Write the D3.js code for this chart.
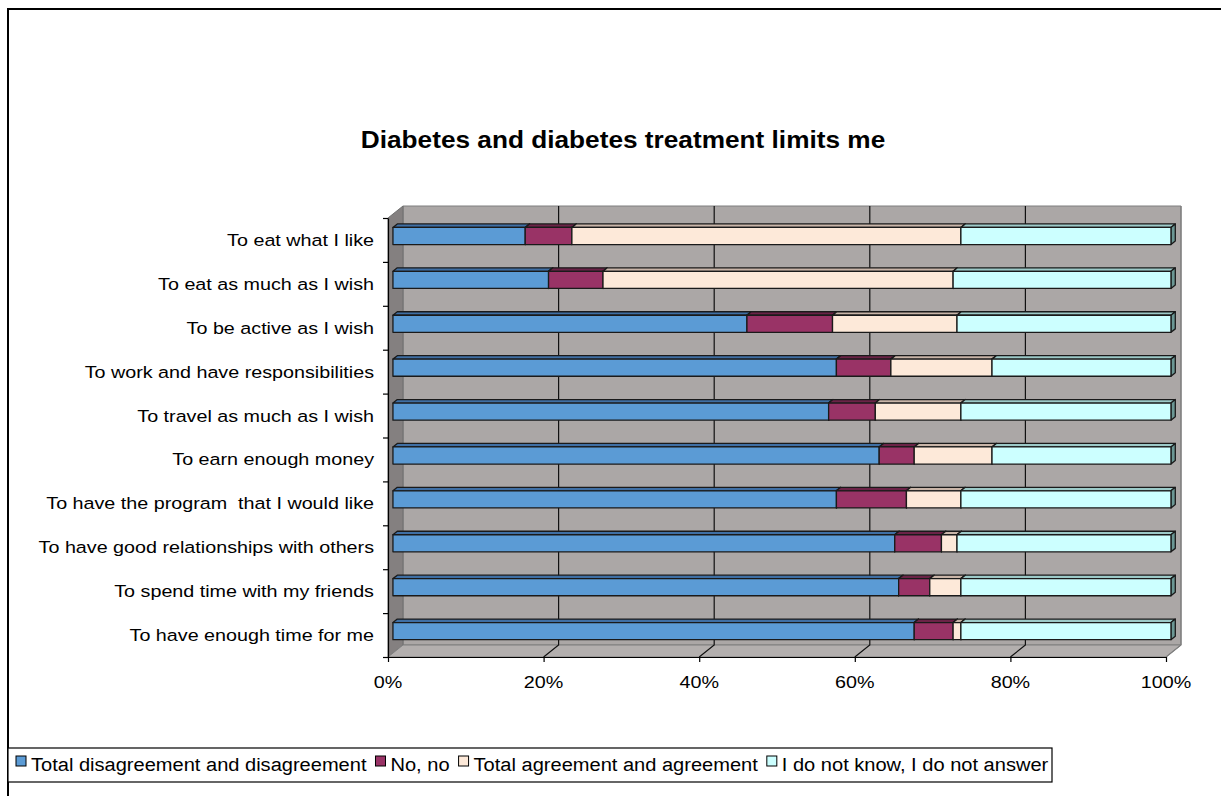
<!DOCTYPE html>
<html>
<head>
<meta charset="utf-8">
<script src="https://cdn.jsdelivr.net/npm/d3@7"></script>
<style>
  body { margin: 0; background: #fff; }
  text { font-family: "Liberation Sans", Arial, sans-serif; fill: #000; white-space: pre; }
</style>
</head>
<body>
<svg id="chart" width="1221" height="796"></svg>
<script>

//============================================================
// Data
//------------------------------------------------------------

var categories = [
  'To eat what I like',
  'To eat as much as I wish',
  'To be active as I wish',
  'To work and have responsibilities',
  'To travel as much as I wish',
  'To earn enough money',
  'To have the program  that I would like',
  'To have good relationships with others',
  'To spend time with my friends',
  'To have enough time for me'
];

var seriesNames = [
  'Total disagreement and disagreement',
  'No, no',
  'Total agreement and agreement',
  'I do not know, I do not answer'
];

var disagree = [17, 20, 45.5, 57, 56, 62.5, 57, 64.5, 65, 67];
var noNo     = [6, 7, 11, 7, 6, 4.5, 9, 6, 4, 5];
var agree    = [50, 45, 16, 13, 11, 10, 7, 2, 4, 1];
var dontKnow = [27, 28, 27.5, 23, 27, 23, 27, 27.5, 27, 27];

var xTicks = [0, 20, 40, 60, 80, 100];

var title = 'Diabetes and diabetes treatment limits me';

//============================================================
// Look
//------------------------------------------------------------

var faceColors = ['#5b9bd5', '#993366', '#fde9d9', '#ccffff'];
var topColors  = ['#3f6fa4', '#6b2347', '#c9b5a8', '#9ccac8'];
var sideColors = ['#3a6595', '#5e1f3e', '#a89488', '#6b9794'];

var X0 = 388, X1 = 1166, Y0 = 218, Y1 = 657
  , DX = 15, DY = -12      // depth of the 3d box
  , f0 = 0.33, f1 = 0.62   // bar position in depth
  , sx = 1.14              // text is drawn a bit wide
  , fs = 17.3
  , legFs = 17.6
  ;

var svg = d3.select('#chart');

function wideText(g, x, y, str, size, anchor, weight) {
  var t = g.append('text')
      .attr('transform', 'translate(' + x + ',' + y + ') scale(' + sx + ',1)')
      .attr('text-anchor', anchor || 'start')
      .style('font-size', size + 'px')
      .style('font-weight', weight || 'normal')
      .text(str);
  return t;
}

// chart border
svg.append('path')
    .attr('d', 'M8,800V9H1225')
    .attr('fill', 'none')
    .attr('stroke', '#000')
    .attr('stroke-width', 2);

wideText(svg, 623, 148, title, 23, 'middle', 'bold');

//------------------------------------------------------------
// Scales

var x = d3.scaleLinear().domain([0, 100]).range([X0, X1]);
var y = d3.scaleBand().domain(categories).range([Y0, Y1])
    .paddingInner(0.61).paddingOuter(0.305);

//------------------------------------------------------------
// Walls and floor

var pts = function(a) { return a.map(function(p) { return p.join(','); }).join(' '); };

svg.append('polygon')
    .attr('points', pts([[X0 + DX, Y0 + DY], [X1 + DX, Y0 + DY], [X1 + DX, Y1 + DY], [X0 + DX, Y1 + DY]]))
    .attr('fill', '#aba7a6').attr('stroke', '#7f7f7f');

svg.append('polygon')
    .attr('points', pts([[X0, Y0], [X0 + DX, Y0 + DY], [X0 + DX, Y1 + DY], [X0, Y1]]))
    .attr('fill', '#848080').attr('stroke', '#6f6f6f');

svg.append('polygon')
    .attr('points', pts([[X0, Y1], [X0 + DX, Y1 + DY], [X1 + DX, Y1 + DY], [X1, Y1]]))
    .attr('fill', '#b3afae').attr('stroke', '#7f7f7f');

var grid = svg.append('g');
xTicks.forEach(function(v) {
  if (v === 0) return;
  grid.append('path')
      .attr('d', 'M' + (x(v) + DX) + ',' + (Y0 + DY) + 'V' + (Y1 + DY) + 'L' + x(v) + ',' + Y1)
      .attr('fill', 'none')
      .attr('stroke', v === 100 ? '#7f7f7f' : '#111')
      .attr('stroke-width', 1.2);
});

//------------------------------------------------------------
// Bars

var rows = categories.map(function(c, i) {
  return {cat: c, s0: disagree[i], s1: noNo[i], s2: agree[i], s3: dontKnow[i]};
});
var stack = d3.stack().keys(['s0', 's1', 's2', 's3'])(rows);

var ox = f0 * DX, oy = f0 * DY
  , ddx = (f1 - f0) * DX, ddy = (f1 - f0) * DY
  , bh = y.bandwidth();

var bars = svg.append('g');
categories.forEach(function(c, i) {
  stack.forEach(function(layer, k) {
    var d = layer[i];
    if (d[1] - d[0] <= 0) return;
    var xa = x(d[0]) + ox, xb = x(d[1]) + ox, yt = y(c) + oy;
    var g = bars.append('g')
        .attr('stroke', '#1a1a1a').attr('stroke-width', 1.3).attr('stroke-linejoin', 'round');
    g.append('polygon')
        .attr('points', pts([[xa, yt], [xa + ddx, yt + ddy], [xb + ddx, yt + ddy], [xb, yt]]))
        .attr('fill', topColors[k]);
    g.append('polygon')
        .attr('points', pts([[xb, yt], [xb + ddx, yt + ddy], [xb + ddx, yt + bh + ddy], [xb, yt + bh]]))
        .attr('fill', sideColors[k]);
    g.append('rect')
        .attr('x', xa).attr('y', yt)
        .attr('width', xb - xa).attr('height', bh)
        .attr('fill', faceColors[k]);
  });
});

//------------------------------------------------------------
// Axes

var yEdge = d3.scaleLinear().domain([0, categories.length]).range([Y0, Y1]);
svg.append('g')
    .attr('transform', 'translate(' + X0 + ',0)')
    .call(d3.axisLeft(yEdge).ticks(categories.length).tickSize(5).tickSizeOuter(0).tickFormat(''))
    .call(function(g) { g.selectAll('line,path').attr('stroke', '#000').attr('stroke-width', 1.2); });

svg.append('g')
    .attr('transform', 'translate(0,' + Y1 + ')')
    .call(d3.axisBottom(x).tickValues(xTicks).tickSize(5).tickSizeOuter(0).tickFormat(''))
    .call(function(g) { g.selectAll('line,path').attr('stroke', '#000').attr('stroke-width', 1.2); });

xTicks.forEach(function(v) {
  wideText(svg, x(v), 688, v + '%', fs, 'middle');
});

categories.forEach(function(c) {
  wideText(svg, 374, y(c) + bh / 2 + 6, c, fs, 'end');
});

//------------------------------------------------------------
// Legend

var leg = svg.append('g');
leg.append('rect')
    .attr('x', 8).attr('y', 748).attr('width', 1044).attr('height', 34)
    .attr('fill', '#fff').attr('stroke', '#000').attr('stroke-width', 1.2);

var lx = 16;
seriesNames.forEach(function(name, k) {
  leg.append('rect')
      .attr('x', lx).attr('y', 756).attr('width', 10).attr('height', 10)
      .attr('fill', faceColors[k]).attr('stroke', '#000');
  var t = wideText(leg, lx + 15, 771, name, legFs, 'start');
  lx = lx + 15 + t.node().getComputedTextLength() * sx + 9;
});

</script>
</body>
</html>
